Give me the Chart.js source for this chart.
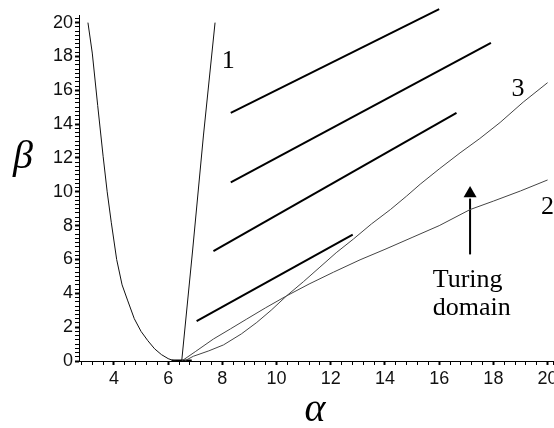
<!DOCTYPE html>
<html>
<head>
<meta charset="utf-8">
<script src="https://cdn.jsdelivr.net/npm/chart.js@4.4.1/dist/chart.umd.min.js"></script>
<style>
  html, body { margin: 0; padding: 0; background: #fff; }
</style>
</head>
<body>
<canvas id="chart" width="554" height="428"></canvas>
<script>
"use strict";

// left curve (parabola-like boundary)
const parabolaX = [3.04, 3.2, 3.4, 3.6, 3.75, 3.9, 4.1, 4.3, 4.5, 4.75, 5.0, 5.25, 5.5, 5.75, 6.0, 6.15, 6.3];
const parabolaY = [20.0, 18.2, 15.1, 12.1, 10.0, 8.2, 6.0, 4.5, 3.6, 2.5, 1.75, 1.2, 0.72, 0.38, 0.14, 0.05, 0.0];

// curve 1 (steep)
const curve1X = [6.5, 6.9, 7.3, 7.73];
const curve1Y = [0, 6.5, 13.3, 20];

// curve 2
const curve2X = [6.5, 7.0, 7.67, 8.3, 8.9, 9.6, 10.37, 11.2, 12.1, 13.08, 14.0, 15.0, 16.0, 17.14, 18.0, 19.0, 20.0];
const curve2Y = [0, 0.55, 1.3, 1.9, 2.48, 3.15, 3.85, 4.55, 5.25, 5.98, 6.6, 7.3, 8.0, 8.95, 9.45, 10.05, 10.7];

// curve 3
const curve3X = [6.6, 6.93, 7.5, 8.04, 8.7, 9.27, 9.8, 10.37, 11.0, 11.6, 12.2, 12.83, 13.5, 14.2, 14.8, 15.3, 16.0, 16.77, 17.5, 18.25, 19.1, 20.0];
const curve3Y = [0, 0.28, 0.6, 0.95, 1.6, 2.28, 3.0, 3.85, 4.7, 5.55, 6.4, 7.2, 8.1, 8.95, 9.75, 10.45, 11.35, 12.3, 13.15, 14.1, 15.3, 16.45];

// hatching segments (start / end)
const hatchX0 = [8.31, 8.31, 7.67, 7.05];
const hatchY0 = [14.66, 10.56, 6.49, 2.35];
const hatchX1 = [16.0, 17.91, 16.64, 12.81];
const hatchY1 = [20.8, 18.8, 14.66, 7.47];

// short thick piece along the axis near the minimum
const baseX = [6.13, 6.87];
const baseY = [0, 0];

// arrow pointing into the Turing domain
const arrowX = [17.14, 17.14];
const arrowY = [6.3, 9.6];
const arrowHead = { x: 17.14, y: 9.9 };

// text annotations
const noteText = ["1", "2", "3", "Turing", "domain"];
const noteX = [8.22, 20.0, 18.91, 17.05, 17.2];
const noteY = [17.32, 8.71, 15.65, 4.40, 2.72];

// axes
const xMin = 2.71, xMax = 20.2;
const yMin = 0, yMax = 20.45;
const xMajorTicks = [4, 6, 8, 10, 12, 14, 16, 18, 20];
const yMajorTicks = [0, 2, 4, 6, 8, 10, 12, 14, 16, 18, 20];
const xMinorStep = 0.4;
const yMinorStep = 0.25;

const pts = (xs, ys) => xs.map((x, i) => ({ x, y: ys[i] }));

function tickList(min, max, step, majors, withMax) {
  const out = [];
  const n0 = Math.ceil(min / step - 1e-9);
  for (let n = n0; n * step <= max + 1e-9; n++) out.push(Math.round(n * step * 1000) / 1000);
  majors.forEach((m) => { if (!out.includes(m)) out.push(m); });
  if (withMax && !out.includes(max)) out.push(max); // empty end tick: last label adds no padding
  return out.sort((a, b) => a - b).map((value) => ({ value }));
}

const isMajor = (v, majors) => majors.some((m) => Math.abs(m - v) < 1e-6);

const curveLine = (data, color) => ({
  data, showLine: true, borderColor: color, borderWidth: 1, pointRadius: 0, fill: false, tension: 0,
});

const datasets = [
  curveLine(pts(parabolaX, parabolaY), "#111"),
  curveLine(pts(curve1X, curve1Y), "#111"),
  curveLine(pts(curve2X, curve2Y), "#444"),
  curveLine(pts(curve3X, curve3Y), "#444"),
  { data: pts(baseX, baseY), showLine: true, borderColor: "#000", borderWidth: 3, pointRadius: 0 },
];
hatchX0.forEach((x, i) => {
  datasets.push({
    data: [{ x, y: hatchY0[i] }, { x: hatchX1[i], y: hatchY1[i] }],
    showLine: true, borderColor: "#000", borderWidth: 2, pointRadius: 0, clip: false,
  });
});
datasets.push({ data: pts(arrowX, arrowY), showLine: true, borderColor: "#000", borderWidth: 2, pointRadius: 0 });
datasets.push({
  data: [arrowHead], showLine: false, pointStyle: "triangle", pointRadius: 7.5,
  backgroundColor: "#000", borderColor: "#000", borderWidth: 0, clip: false,
});

const notesPlugin = {
  id: "notes",
  afterDatasetsDraw(chart) {
    const { ctx, chartArea, scales } = chart;
    const xs = scales.x, ys = scales.y;
    ctx.save();
    ctx.fillStyle = "#000";
    ctx.textAlign = "center";
    ctx.textBaseline = "alphabetic";
    ctx.font = '26px "Liberation Serif", "Times New Roman", serif';
    noteText.forEach((t, i) => {
      ctx.fillText(t, xs.getPixelForValue(noteX[i]), ys.getPixelForValue(noteY[i]));
    });
    ctx.font = 'italic 40px "Liberation Serif", "Times New Roman", serif';
    ctx.fillText("\u03B2", chartArea.left - 56, ys.getPixelForValue(11.43));
    ctx.fillText("\u03B1", xs.getPixelForValue(11.42), chartArea.bottom + 60);
    ctx.restore();
  },
};

const tickFamily = '"Liberation Sans", Arial, sans-serif';

new Chart(document.getElementById("chart"), {
  type: "scatter",
  data: { datasets },
  options: {
    responsive: false,
    animation: false,
    // the arrow-head point would otherwise add auto padding on every side
    layout: { autoPadding: false, padding: { top: 15, right: 1, left: 0, bottom: 0 } },
    plugins: { legend: { display: false }, tooltip: { enabled: false } },
    scales: {
      x: {
        type: "linear", min: xMin, max: xMax,
        afterBuildTicks: (s) => { s.ticks = tickList(xMin, xMax, xMinorStep, xMajorTicks, true); },
        afterFit: (s) => { s.height = 67; },
        border: { display: true, color: "#000", width: 1 },
        grid: {
          drawOnChartArea: false, drawTicks: true, tickLength: 4,
          tickColor: "#000",
          tickWidth: (c) => (isMajor(c.tick.value, xMajorTicks) ? 2 : 1),
        },
        ticks: {
          autoSkip: false, maxRotation: 0, padding: 0, color: "#111",
          font: { family: tickFamily, size: 18, lineHeight: 1.53 },
          callback: (v) => (isMajor(v, xMajorTicks) ? String(Math.round(v)) : ""),
        },
      },
      y: {
        type: "linear", min: yMin, max: yMax,
        afterBuildTicks: (s) => { s.ticks = tickList(yMin, yMax, yMinorStep, yMajorTicks, false); },
        afterFit: (s) => { s.width = 79; },
        border: { display: true, color: "#000", width: 1 },
        grid: {
          drawOnChartArea: false, drawTicks: true, tickLength: 4,
          tickColor: "#000",
          tickWidth: (c) => (isMajor(c.tick.value, yMajorTicks) ? 2 : 1),
        },
        ticks: {
          autoSkip: false, padding: 2, color: "#111",
          font: { family: tickFamily, size: 18 },
          callback: (v) => (isMajor(v, yMajorTicks) ? String(Math.round(v)) : ""),
        },
      },
    },
  },
  plugins: [notesPlugin],
});
</script>
</body>
</html>
